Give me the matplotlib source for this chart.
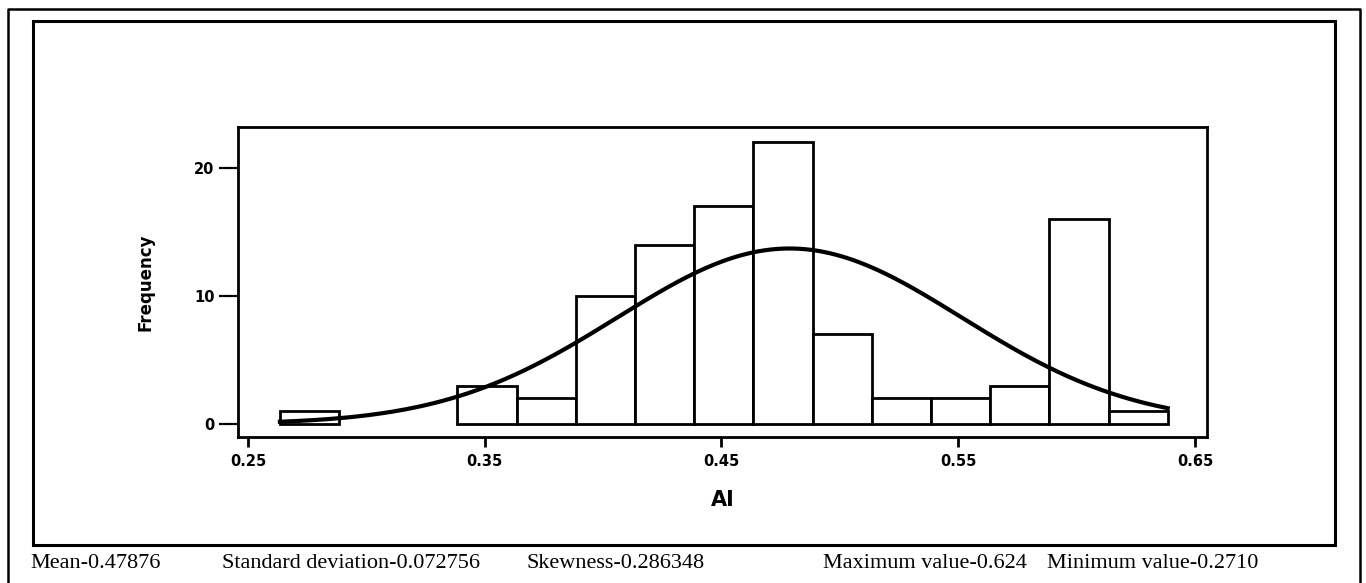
"""
AI histogram with fitted normal curve (Minitab-style scan).
"""
import numpy as np
import matplotlib
matplotlib.use('Agg')
import matplotlib.pyplot as plt
from matplotlib.lines import Line2D
from matplotlib.patches import Rectangle

matplotlib.rcParams.update({
    'font.family': 'DejaVu Sans',
    'axes.linewidth': 2.0,
    'xtick.major.width': 2.0,
    'ytick.major.width': 1.6,
})

# ── data ─────────────────────────────────────────────────────────────────────
BIN_MIDS = [0.276, 0.301, 0.326, 0.351, 0.376, 0.401, 0.426, 0.451,
            0.476, 0.501, 0.526, 0.551, 0.576, 0.601, 0.626]
COUNTS = [1, 0, 0, 3, 2, 10, 14, 17, 22, 7, 2, 2, 3, 16, 1]
BIN_WIDTH = 0.025

X_TICKS = [0.25, 0.35, 0.45, 0.55, 0.65]
Y_TICKS = [0, 10, 20]

MEAN = 0.47876
SD = 0.072756
STAT_TEXT = ['Mean-0.47876', 'Standard deviation-0.072756', 'Skewness-0.286348',
             'Maximum value-0.624', 'Minimum value-0.2710']
STAT_X = [30, 222, 527, 823, 1047]   # pixel x of each footer item

W, H = 1366, 583


def fx(px):
    return px / W


def fy(py):
    return 1 - py / H


def main():
    fig = plt.figure(figsize=(W / 100, H / 100), dpi=100)
    fig.patch.set_facecolor('white')

    # outer scan frames
    fig.add_artist(Line2D([fx(8), fx(8), fx(1360), fx(1360)],
                          [0, fy(9), fy(9), 0],
                          transform=fig.transFigure, color='black', lw=1.8))
    fig.add_artist(Rectangle((fx(33), fy(545)), fx(1335) - fx(33), fy(21) - fy(545),
                             transform=fig.transFigure, fill=False,
                             edgecolor='black', lw=2.2))

    ax = fig.add_axes([fx(238), fy(437), fx(1207) - fx(238), fy(127) - fy(437)])

    mids = np.array(BIN_MIDS)
    counts = np.array(COUNTS)
    keep = counts > 0
    ax.bar(mids[keep], counts[keep], width=BIN_WIDTH, color='white',
           edgecolor='black', linewidth=2.0, zorder=2)

    # fitted normal curve over the histogram range
    n = counts.sum()
    lo = mids[0] - BIN_WIDTH / 2
    hi = mids[-1] + BIN_WIDTH / 2
    xs = np.linspace(lo, hi, 300)
    ys = n * BIN_WIDTH / (SD * np.sqrt(2 * np.pi)) * np.exp(-0.5 * ((xs - MEAN) / SD) ** 2)
    ax.plot(xs, ys, color='black', lw=3.0, zorder=3)

    ax.set_xlim(0.2458, 0.6551)
    ax.set_ylim(-1.02, 23.2)
    ax.set_xticks(X_TICKS)
    ax.set_xticklabels([f'{t:.2f}' for t in X_TICKS], fontsize=10.5, fontweight='bold')
    ax.set_yticks(Y_TICKS)
    ax.set_yticklabels([str(t) for t in Y_TICKS], fontsize=10.5, fontweight='bold')
    ax.tick_params(axis='x', length=7, pad=5)
    ax.tick_params(axis='y', length=14, pad=3)

    ax.set_xlabel('AI', fontsize=15, fontweight='bold')
    ax.xaxis.set_label_coords(0.5, -0.17)
    ax.set_ylabel('Frequency', fontsize=12, fontweight='bold')
    ax.yaxis.set_label_coords(-0.086, 0.5)

    for txt, px in zip(STAT_TEXT, STAT_X):
        fig.text(fx(px), fy(568), txt, family='Liberation Serif',
                 fontsize=16, ha='left', va='baseline')

    fig.savefig('out.png', dpi=100)
    plt.close(fig)


if __name__ == '__main__':
    main()
